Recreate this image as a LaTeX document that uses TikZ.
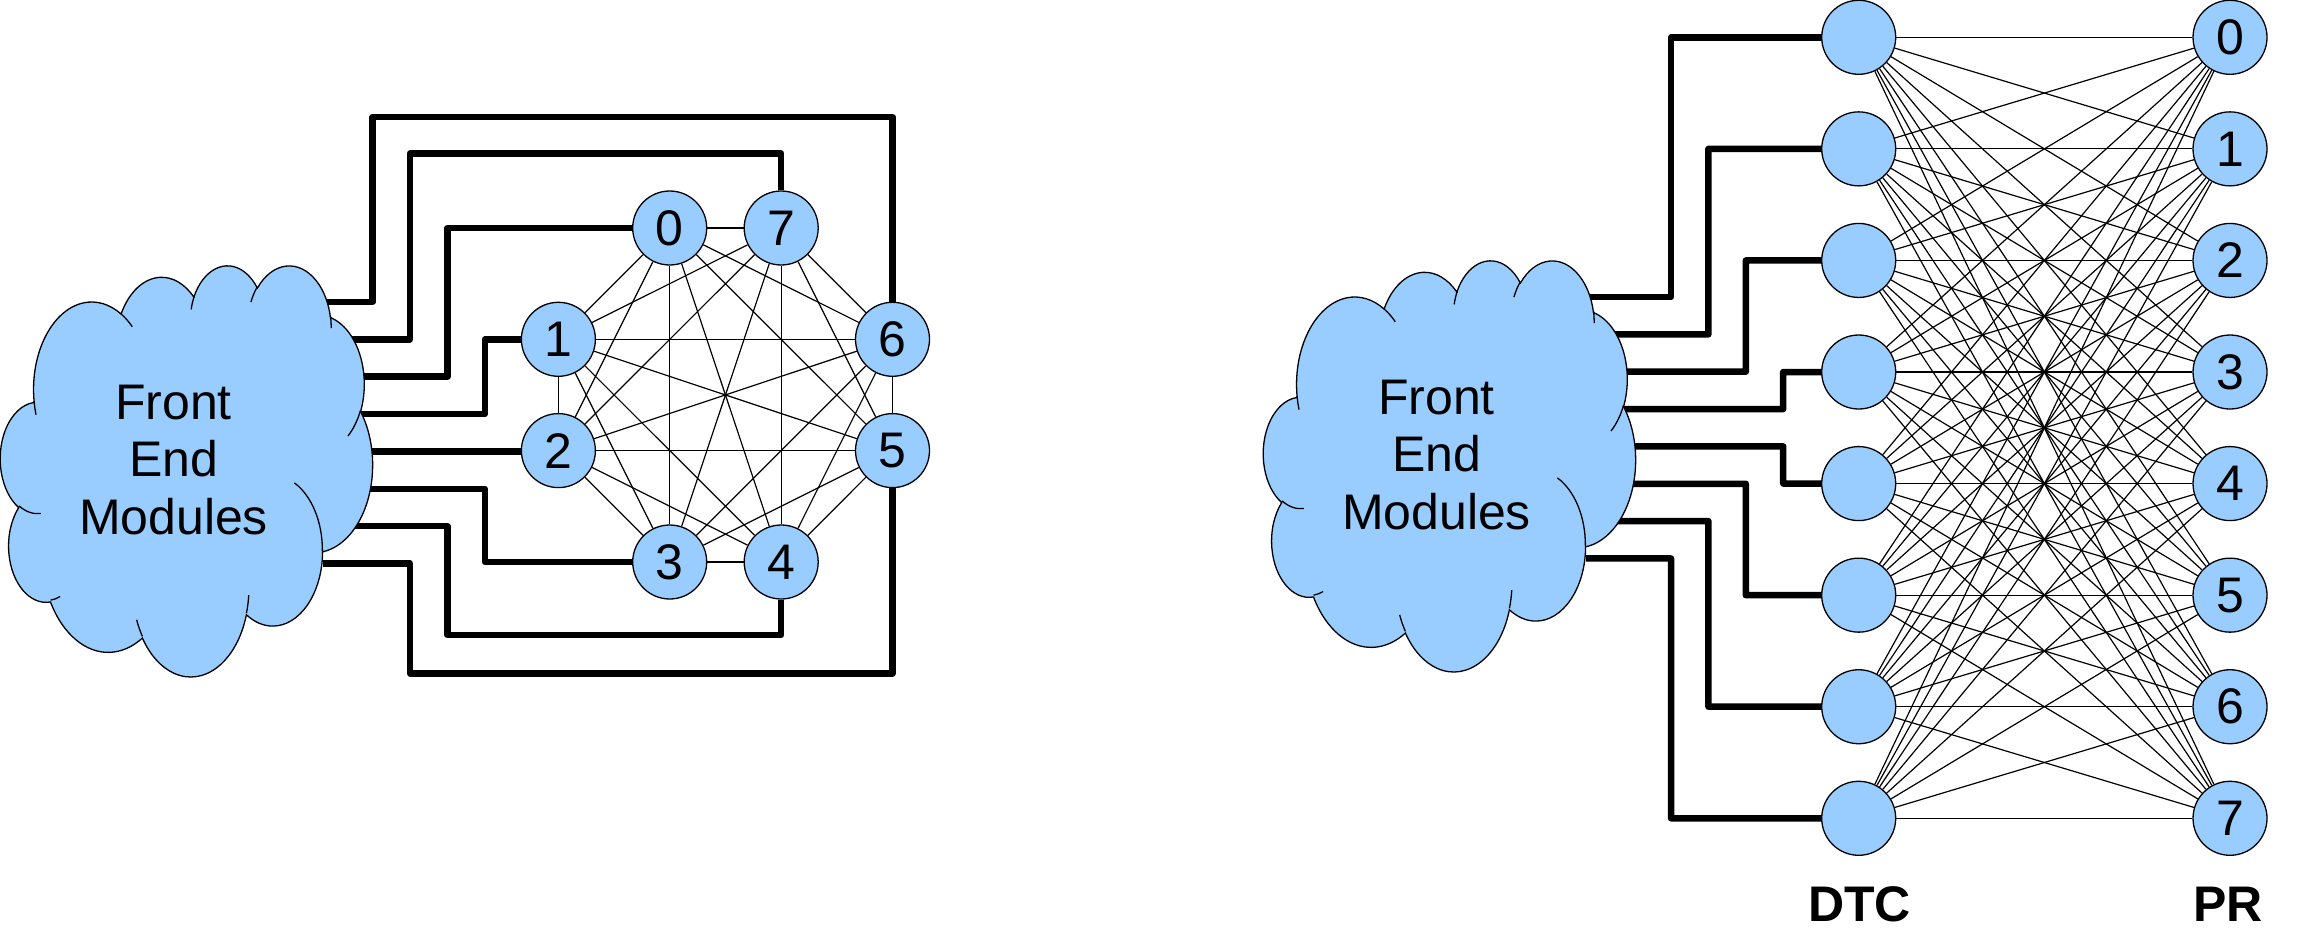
\documentclass[tikz,border=0pt]{standalone}
\usepackage{fontspec}
\setmainfont{Liberation Sans}
\usetikzlibrary{backgrounds}
\definecolor{nodeblue}{HTML}{99CCFF}
\newcommand\CSX{0.86111}
\newcommand\CSY{0.95139}
\gdef\CloudOutline{}
\gdef\CloudInner{}
\newcommand\CArc[4]{%
  \pgfmathsetmacro\CAt{atan2((#1)*sin(#3),(#2)*cos(#3))}%
  \pgfmathsetmacro\CAu{atan2((#1)*sin((#3)+(#4)),(#2)*cos((#3)+(#4)))}%
  \pgfmathsetmacro\CAd{\CAu-(\CAt)}%
  \pgfmathsetmacro\CAd{ifthenelse(\CAd<0,\CAd+360,\CAd)}%
  \pgfmathsetmacro\CAs{0-(\CAt)}%
  \pgfmathsetmacro\CAe{0-(\CAd)}%
  \pgfmathsetmacro\CArx{(#1)*\CSX}%
  \pgfmathsetmacro\CAry{(#2)*\CSY}%
}
\newcommand\AddOut[4]{\CArc{#1}{#2}{#3}{#4}%
  \xdef\CloudOutline{\CloudOutline arc[start angle=\CAs,delta angle=\CAe,x radius=\CArx pt,y radius=\CAry pt]}}
\newcommand\AddIn[6]{\CArc{#3}{#4}{#5}{#6}%
  \pgfmathsetmacro\CPx{(#1)*\CSX}\pgfmathsetmacro\CPy{(#2)*\CSY}%
  \xdef\CloudInner{\CloudInner (\CPx,\CPy) arc[start angle=\CAs,delta angle=\CAe,x radius=\CArx pt,y radius=\CAry pt]}}
\tikzset{
  vtx/.style={circle,draw=black,line width=1.3pt,fill=nodeblue,minimum size=74pt,inner sep=0pt,font=\fontsize{50}{60}\selectfont},
  mesh/.style={line width=1.2pt,draw=black},
  bus/.style={line width=6.5pt,draw=black,line join=round},
  cloudsty/.style={fill=nodeblue,draw=black,line width=1.3pt},
  cloudline/.style={draw=black,line width=1.3pt},
  cloudtext/.style={align=center,inner sep=0pt,font=\fontsize{50}{57.2}\selectfont},
  lbl/.style={inner sep=0pt,font=\fontsize{50}{60}\selectfont\bfseries}
}
\begin{document}
\begin{tikzpicture}[x=1pt,y=-1pt]%
\AddOut{67.53}{91.90}{-190.4875}{123.7805}%
\AddOut{53.33}{72.67}{-144.1024}{89.9452}%
\AddOut{43.65}{59.45}{-145.8079}{99.7230}%
\AddOut{48.57}{65.95}{-130.9861}{117.2417}%
\AddOut{53.33}{72.73}{-78.7089}{109.0269}%
\AddOut{67.75}{92.20}{-46.2673}{130.2690}%
\AddOut{57.85}{78.67}{0.6250}{114.0333}%
\AddOut{67.52}{92.15}{22.4516}{115.1726}%
\AddOut{77.20}{105.43}{66.2426}{75.7110}%
\AddOut{43.60}{59.18}{-274.9421}{146.7356}%
\AddOut{43.45}{59.45}{-246.8285}{152.5189}%
\AddIn{46.93}{261.77}{43.45}{59.45}{86.7420}{26.4295}%
\AddIn{69.28}{348.99}{43.60}{59.18}{73.6105}{11.4475}%
\AddIn{164.78}{390.90}{67.52}{92.15}{137.6242}{14.0811}%
\AddIn{288.27}{347.51}{67.52}{92.15}{6.4533}{15.9984}%
\AddIn{341.29}{229.54}{57.85}{78.67}{-70.2924}{70.9174}%
\AddIn{417.98}{153.54}{53.33}{72.73}{30.3180}{27.7515}%
\AddIn{383.24}{54.26}{48.57}{65.95}{-13.7443}{14.8589}%
\AddIn{290.78}{39.52}{48.57}{65.95}{-149.1815}{18.1954}%
\AddIn{221.41}{47.20}{43.65}{59.45}{-163.4943}{17.6864}%
\AddIn{140.00}{51.92}{67.53}{91.90}{-66.7070}{12.3194}%
\AddIn{41.27}{157.89}{67.53}{91.90}{157.6544}{11.8582}%
\useasboundingbox (0,0) rectangle (2304,933);
% ---------- clouds ----------
\begin{scope}[shift={(0.5,264.5)}]
  \draw[cloudsty] (33.583,136.715) \CloudOutline -- cycle;
  \draw[cloudline] \CloudInner;
\end{scope}
\node[cloudtext] (femL) at (173.5,460) {Front\\End\\Modules};
\begin{scope}[shift={(1263.5,259.5)}]
  \draw[cloudsty] (33.583,136.715) \CloudOutline -- cycle;
  \draw[cloudline] \CloudInner;
\end{scope}
\node[cloudtext] (femR) at (1436.5,455) {Front\\End\\Modules};
% ---------- left ring nodes ----------
\node[vtx] (n0) at (669.7,228) {0};
\node[vtx] (n7) at (781.2,228) {7};
\node[vtx] (n1) at (558.4,339.3) {1};
\node[vtx] (n6) at (892.5,339.3) {6};
\node[vtx] (n2) at (558.4,450.6) {2};
\node[vtx] (n5) at (892.5,450.6) {5};
\node[vtx] (n3) at (669.7,562) {3};
\node[vtx] (n4) at (781.2,562) {4};
% ---------- right columns ----------
\foreach \i in {0,...,7} {
  \node[vtx] (d\i) at (1858.7,{37.3+111.57*\i}) {};
  \node[vtx] (p\i) at (2230,{37.3+111.57*\i}) {\i};
}
\node[lbl,anchor=base] (dtc) at (1859.7,921.3) {DTC};
\node[lbl,anchor=base] (pr) at (2228,921.3) {PR};
% ---------- cloud exits ----------
\coordinate (L0) at (323,302);
\coordinate (L1) at (340,339.35);
\coordinate (L2) at (350,376.7);
\coordinate (L3) at (346.7,414.05);
\coordinate (L4) at (358,451.4);
\coordinate (L5) at (356.7,488.75);
\coordinate (L6) at (340,526.1);
\coordinate (L7) at (323,563.45);
\coordinate (R0) at (1586,297);
\coordinate (R1) at (1603,334.35);
\coordinate (R2) at (1613,371.7);
\coordinate (R3) at (1609.7,409.05);
\coordinate (R4) at (1621,446.4);
\coordinate (R5) at (1619.7,483.75);
\coordinate (R6) at (1603,521.1);
\coordinate (R7) at (1586,558.45);
\begin{pgfonlayer}{background}
  \fill[white] (0,0) rectangle (2304,933);
  % full mesh, left
  \foreach \i in {0,...,6} {
    \pgfmathtruncatemacro\s{\i+1}
    \foreach \j in {\s,...,7} { \draw[mesh] (n\i) -- (n\j); }
  }
  % bipartite mesh, right
  \foreach \i in {0,...,7} {
    \foreach \j in {0,...,7} { \draw[mesh] (d\i) -- (p\j); }
  }
  % thick buses, left
  \draw[bus] (L0) -| (372.7,117) -| (n6);
  \draw[bus] (L1) -| (410,153.7) -| (n7);
  \draw[bus] (L2) -| (447.5,228) -- (n0);
  \draw[bus] (L3) -| (484.8,339.3) -- (n1);
  \draw[bus] (L4) -- (L4 -| n2.west);
  \draw[bus] (L5) -| (484.8,562) -- (n3);
  \draw[bus] (L6) -| (447.5,635) -| (n4);
  \draw[bus] (L7) -| (410,673.3) -| (n5);
  % thick buses, right
  \draw[bus] (R0) -| (1671,37.3) -- (d0);
  \draw[bus] (R1) -| (1708.4,148.87) -- (d1);
  \draw[bus] (R2) -| (1745.8,260.44) -- (d2);
  \draw[bus] (R3) -| (1783.2,372.01) -- (d3);
  \draw[bus] (R4) -| (1783.2,483.58) -- (d4);
  \draw[bus] (R5) -| (1745.8,595.15) -- (d5);
  \draw[bus] (R6) -| (1708.4,706.72) -- (d6);
  \draw[bus] (R7) -| (1671,818.29) -- (d7);
\end{pgfonlayer}
\end{tikzpicture}
\end{document}
